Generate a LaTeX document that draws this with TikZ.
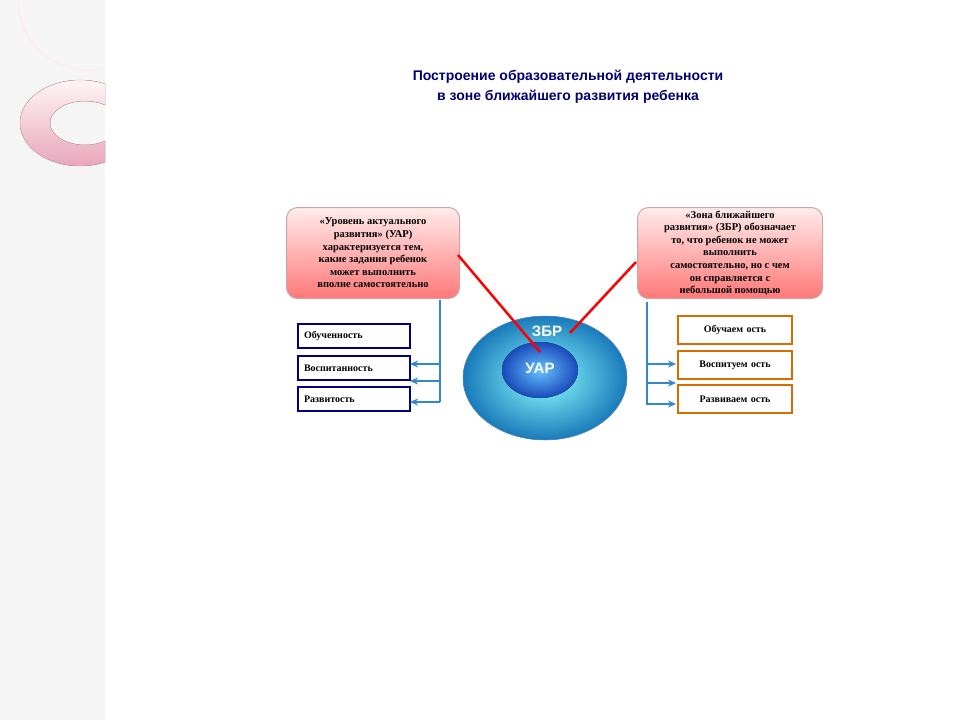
\documentclass[tikz,border=0pt]{standalone}
\usepackage{fontspec}
\setmainfont{Liberation Serif}
\setsansfont{Liberation Sans}
\usetikzlibrary{arrows.meta}
\begin{document}
\begin{tikzpicture}[x=1pt,y=-1pt,
  pinkbox/.style={draw=pink!60!gray,line width=1pt,rounded corners=11pt,top color=pink!30,bottom color=red!55!pink!80,minimum width=173pt,minimum height=91pt,align=center,font=\bfseries\fontsize{10.5}{12.6}\selectfont,inner sep=1pt},
  lbox/.style={draw=blue!50!black,line width=2pt,minimum width=112pt,minimum height=24pt,font=\bfseries\fontsize{10}{12}\selectfont,anchor=north west,text width=100pt,align=left},
  rbox/.style={draw=orange!85!black,line width=2pt,minimum width=114pt,minimum height=28pt,font=\bfseries\fontsize{10}{12}\selectfont,anchor=north west,text width=100pt,align=center},
  conn/.style={draw=blue!45!cyan!60!gray,line width=2.8pt},
  arr/.style={conn,-{Stealth[length=8pt,width=7pt]}},
  redl/.style={draw=red,line width=2.5pt}]
\useasboundingbox (0,0) rectangle (960,720);
\fill[white] (0,0) rectangle (960,720);
\fill[gray!8] (0,0) rectangle (105,720);
\begin{scope}
\clip (0,0) rectangle (105,720);
\draw[pink!30,line width=1.5pt] (88,0) circle (70);
\fill[even odd rule,top color=pink!15,bottom color=purple!35,draw=pink!60!gray] (80,123) ellipse (60 and 43) (85,123) ellipse (35 and 22);
\end{scope}
\node[font=\sffamily\bfseries\fontsize{14}{20}\selectfont,text=blue!45!black,align=center] (title) at (568,87) {Построение образовательной деятельности\\в зоне ближайшего развития ребенка};
\node[pinkbox] (uarbox) at (373,253) {«Уровень актуального\\развития» (УАР)\\характеризуется тем,\\какие задания ребенок\\может выполнить\\вполне самостоятельно};
\node[pinkbox,minimum width=185pt] (zbrbox) at (730,253) {«Зона ближайшего\\развития» (ЗБР) обозначает\\то, что ребенок не может\\выполнить\\самостоятельно, но с чем\\он справляется с\\небольшой помощью};
\fill[inner color=cyan!45,outer color=cyan!60!blue!70!black!90,draw=cyan!50!blue!60] (545,378) ellipse (82 and 62);
\fill[inner color=blue!40!cyan!60,outer color=blue!70!cyan!70!black!90] (540,370) ellipse (38 and 28);
\node[font=\sffamily\bfseries\fontsize{15}{17}\selectfont,text=white] (zbr) at (547,331) {ЗБР};
\node[font=\sffamily\bfseries\fontsize{15}{17}\selectfont,text=white] (uar) at (540,368) {УАР};
\coordinate (uarpt) at (540,352);
\coordinate (zbrpt) at (570,333);
\draw[redl] (458,255) -- (uarpt);
\draw[redl] (636,262) -- (zbrpt);
\node[lbox] (l1) at (297,323) {Обученность};
\node[lbox] (l2) at (297,355) {Воспитанность};
\node[lbox] (l3) at (297,386) {Развитость};
\node[rbox] (r1) at (677,315) {Обучаем ость};
\node[rbox] (r2) at (677,350) {Воспитуем ость};
\node[rbox] (r3) at (677,384) {Развиваем ость};
\coordinate (lt) at (440,300);
\coordinate (rt) at (647,302);
\draw[conn] (lt) -- (440,402);
\draw[arr] (440,364) -- (410,364);
\draw[arr] (440,381) -- (410,381);
\draw[arr] (440,402) -- (410,402);
\draw[conn] (rt) -- (647,405);
\draw[arr] (647,364) -- (676,364);
\draw[arr] (647,383) -- (676,383);
\draw[arr] (647,404) -- (676,404);
\end{tikzpicture}
\end{document}
